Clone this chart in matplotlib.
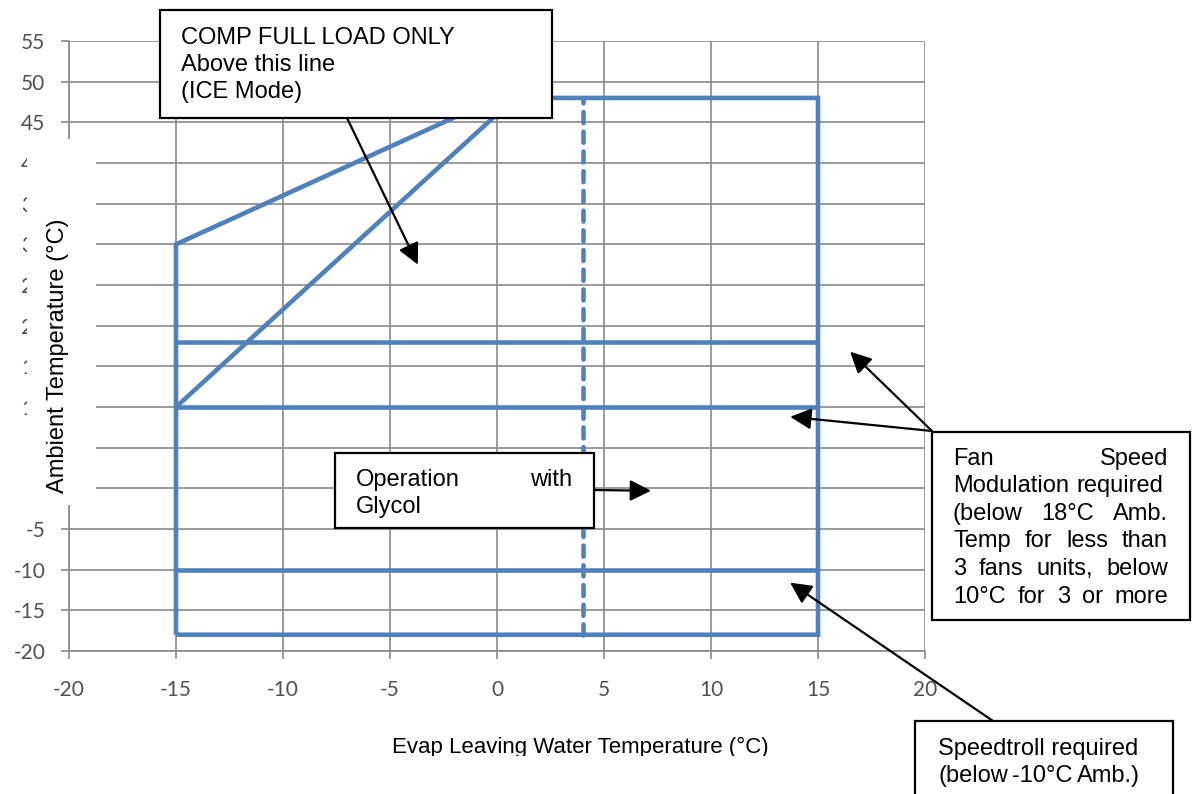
import matplotlib
matplotlib.use("Agg")
import matplotlib.pyplot as plt
from matplotlib.patches import Rectangle

# ---------------- data ----------------
x_ticks = [-20, -15, -10, -5, 0, 5, 10, 15, 20]
y_ticks = [-20, -15, -10, -5, 0, 5, 10, 15, 20, 25, 30, 35, 40, 45, 50, 55]
envelope_x = [-15, -15, 0, 15, 15, -15]
envelope_y = [-18, 30, 48, 48, -18, -18]
limit_levels = [18, 10, -10]
limit_x = [-15, 15]
ice_line_x = [-15, 0]
ice_line_y = [10, 46]
glycol_x = [4, 4]
glycol_y = [-18, 48]

# annotation targets (data coords)
ice_target = (-3.7, 27.5)
glycol_target = (7.2, -0.3)
fan_targets = [(16.5, 16.8), (13.7, 8.8)]
speedtroll_target = (13.7, -11.6)

BLUE = "#4F81BD"
GRID = "#8a8a8a"
W, H = 1195, 794
TXT = "Liberation Sans"
FS = 17

fig = plt.figure(figsize=(W / 100, H / 100), dpi=100)
fig.patch.set_facecolor("white")
ax = fig.add_axes([69 / W, 1 - 651 / H, (925 - 69) / W, (651 - 41) / H])
ax.set_xlim(-20, 20)
ax.set_ylim(-20, 55)
ax.set_xticks(x_ticks)
ax.set_yticks(y_ticks)
ax.set_xticklabels([str(v) for v in x_ticks])
ax.set_yticklabels([str(v) for v in y_ticks])
ax.grid(True, color=GRID, lw=1.2)
ax.set_axisbelow(True)
for s in ["top", "right"]:
    ax.spines[s].set_visible(False)
for s in ["left", "bottom"]:
    ax.spines[s].set_color(GRID)
    ax.spines[s].set_linewidth(1.2)
ax.tick_params(axis="both", direction="out", length=6, width=1.2, color=GRID,
               labelsize=15, labelcolor="#505050")
ax.tick_params(axis="y", pad=11)
ax.tick_params(axis="x", pad=15)
for lab in ax.get_xticklabels() + ax.get_yticklabels():
    lab.set_family("Lato")

lkw = dict(color=BLUE, lw=3.3, solid_joinstyle="miter", solid_capstyle="butt")
ax.plot(envelope_x, envelope_y, **lkw)
for lv in limit_levels:
    ax.plot(limit_x, [lv, lv], **lkw)
ax.plot(ice_line_x, ice_line_y, **lkw)
ax.plot(glycol_x, glycol_y, color=BLUE, lw=3.3, linestyle=(0, (2.4, 1.9)),
        dash_capstyle="round")


def fx(x):
    return x / W


def fy(y):
    return 1 - y / H


def box(x0, y0, x1, y1, z=20):
    r = Rectangle((fx(x0), fy(y1)), (x1 - x0) / W, (y1 - y0) / H,
                  transform=fig.transFigure, facecolor="white",
                  edgecolor="black", lw=1.6, zorder=z, clip_on=False)
    fig.add_artist(r)


def line_text(s, x, ybase, ha="left", size=FS, z=21):
    return fig.text(fx(x), fy(ybase), s, ha=ha, va="baseline", fontsize=size,
                    family=TXT, color="black", zorder=z)


renderer = fig.canvas.get_renderer()


def justified(words, x0, x1, ybase, size=FS, z=21):
    ts = [line_text(w, 0, ybase, size=size, z=z) for w in words]
    widths = [t.get_window_extent(renderer).width for t in ts]
    gap = (x1 - x0 - sum(widths)) / max(len(words) - 1, 1)
    x = x0
    for t, w in zip(ts, widths):
        t.set_position((fx(x), fy(ybase)))
        x += w + gap


def arrow(target, start):
    ax.annotate("", xy=target, xycoords="data",
                xytext=(start[0], H - start[1]), textcoords="figure pixels",
                arrowprops=dict(arrowstyle="-|>", color="black", lw=1.6,
                                mutation_scale=32, shrinkA=0, shrinkB=0),
                annotation_clip=False, zorder=15)


# y label with white background block (covers part of tick labels)
fig.add_artist(Rectangle((fx(27), fy(505)), (96 - 27) / W, (505 - 139) / H,
                         transform=fig.transFigure, facecolor="white",
                         edgecolor="none", zorder=10))
fig.text(fx(58), fy(356), "Ambient Temperature (°C)", rotation=90,
         ha="center", va="center", fontsize=17, family=TXT, zorder=11)

# x label (bottom clipped)
line_text("Evap Leaving Water Temperature (°C)", 580, 753, ha="center", size=16, z=5)
fig.add_artist(Rectangle((fx(370), 0), (910 - 370) / W, (H - 756) / H,
                         transform=fig.transFigure, facecolor="white",
                         edgecolor="none", zorder=6))

# arrows
arrow(ice_target, (347, 118))
arrow(glycol_target, (594, 490))
for t in fan_targets:
    arrow(t, (932, 431))
arrow(speedtroll_target, (993, 721))

# ICE mode box
box(160, 10, 552, 118)
line_text("COMP FULL LOAD ONLY", 181, 44)
line_text("Above this line", 181, 71)
line_text("(ICE Mode)", 181, 98)

# Glycol box
box(335, 453, 594, 528)
justified(["Operation", "with"], 356, 572, 486)
line_text("Glycol", 356, 513)

# Fan speed box
box(932, 432, 1190, 620)
fan_lines = [
    (["Fan", "Speed"], 1168, 465),
    (["Modulation", "required"], 1163, 492),
    (["(below", "18°C", "Amb."], 1168, 520),
    (["Temp", "for", "less", "than"], 1168, 547),
    (["3", "fans", "units,", "below"], 1168, 575),
    (["10°C", "for", "3", "or", "more"], 1168, 603),
]
for words, xr, yb in fan_lines:
    justified(words, 953, xr, yb)

# Speedtroll box
box(915, 721, 1173, 800)
line_text("Speedtroll required", 938, 755)
justified(["(below", "-10°C", "Amb.)"], 938, 1140, 782)

fig.savefig("out.png", dpi=100, facecolor="white")
